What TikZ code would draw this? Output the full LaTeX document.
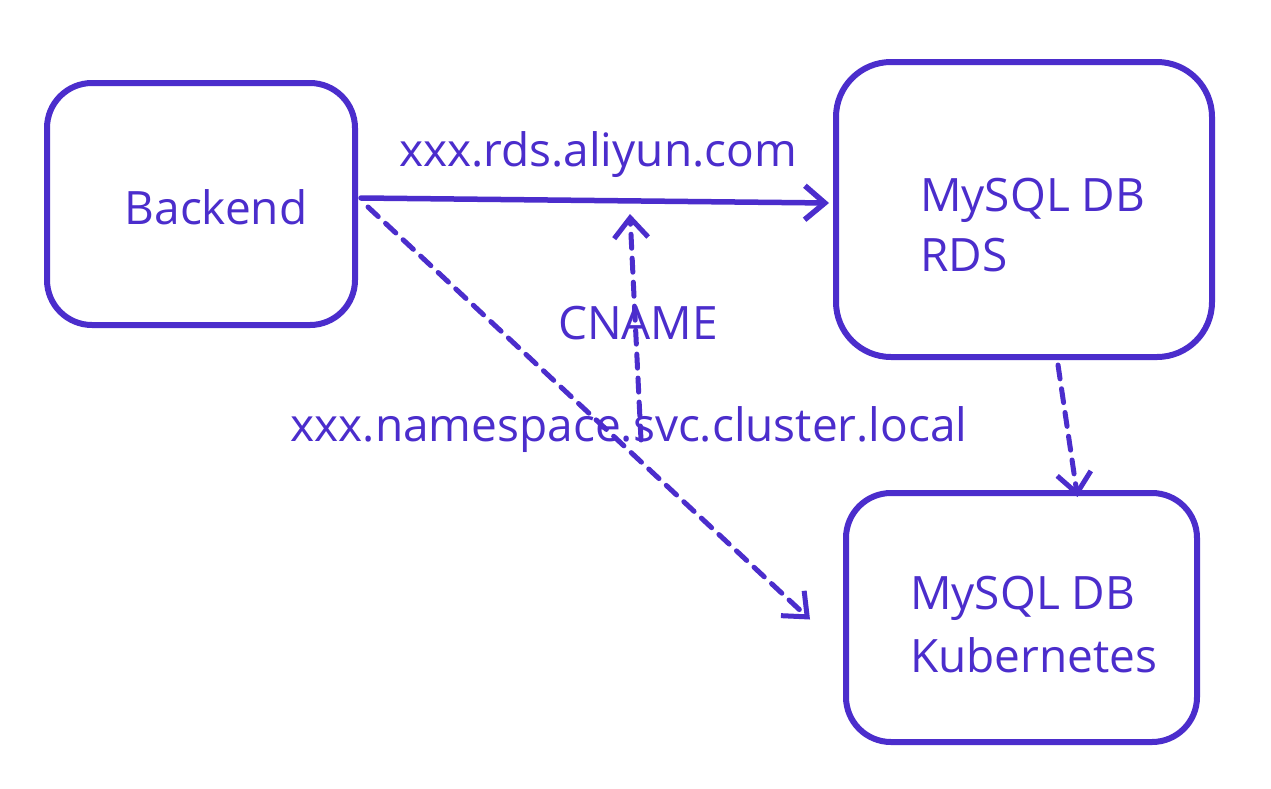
\documentclass[tikz,border=0pt]{standalone}
\usepackage{fontspec}
\setmainfont{Open Sans}
\usetikzlibrary{arrows.meta,calc}
\definecolor{ink}{HTML}{4B2DCC}
\begin{document}
\begin{tikzpicture}[x=1pt,y=-1pt,
  box/.style={draw=ink,line width=6pt,rounded corners=#1,inner sep=0pt},
  lbl/.style={text=ink,inner sep=0pt,font=\fontsize{46}{55}\selectfont},
  tip/.style={-{Straight Barb[length=20pt,width=34pt]}},
  solidarrow/.style={draw=ink,line width=5.5pt,tip,line cap=round},
  dasharrow/.style={draw=ink,line width=5pt,tip,dash pattern=on 14pt off 10pt,line cap=round}]
\useasboundingbox (0,0) rectangle (1271,788);
\fill[white] (0,0) rectangle (1271,788);
% boxes
\node[box=45pt,minimum width=308pt,minimum height=242pt] (back) at (201,204) {};
\node[box=55pt,minimum width=376pt,minimum height=295pt] (rds) at (1024,209.5) {};
\node[box=45pt,minimum width=351pt,minimum height=249pt] (k8s) at (1021.5,617.5) {};
% box texts
\node[lbl] (tback) at (216,207) {Backend};
\node[lbl,anchor=west] (trds1) at (920,200) {MySQL DB};
\node[lbl,anchor=west] (trds2) at (920,255) {RDS};
\node[lbl,anchor=west] (tk1) at (910,598) {MySQL DB};
\node[lbl,anchor=west] (tk2) at (910,655) {Kubernetes};
% free ends
\coordinate (cnfrom) at (641,440);
\coordinate (cnto) at (630,214);
% connectors
\draw[solidarrow] ([xshift=3pt,yshift=6pt]back.east) -- ([xshift=-4pt,yshift=6.5pt]rds.west);
\draw[dasharrow] ([xshift=10pt,yshift=-3pt]back.east) -- ([xshift=-33pt,yshift=-2pt]k8s.west);
\draw[dasharrow] (cnfrom) -- (cnto);
\draw[dasharrow] ([xshift=34pt,yshift=-5pt]rds.south) -- ([xshift=56pt,yshift=-7pt]k8s.north);
% edge labels
\node[lbl] (l1) at (598,155) {xxx.rds.aliyun.com};
\node[lbl] (l2) at (638,323) {CNAME};
\node[lbl] (l3) at (629,430) {xxx.namespace.svc.cluster.local};
\end{tikzpicture}
\end{document}
